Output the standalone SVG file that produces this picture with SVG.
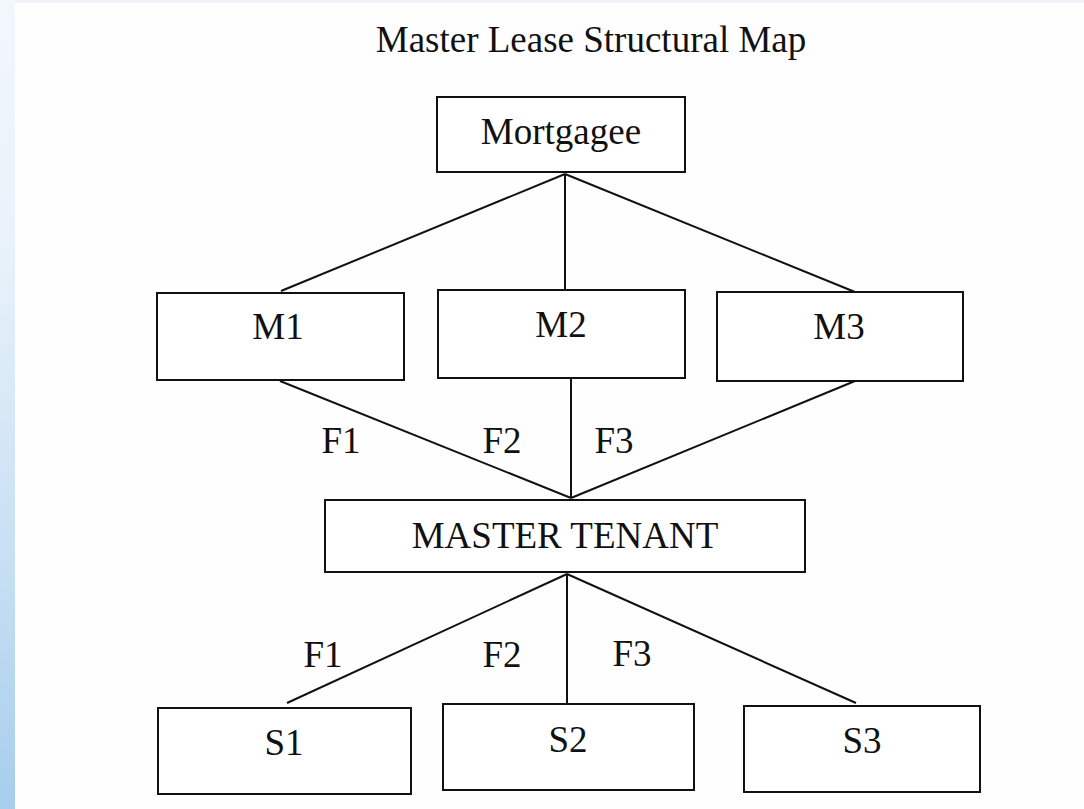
<svg xmlns="http://www.w3.org/2000/svg" width="1084" height="809" viewBox="0 0 1084 809">
<defs>
<linearGradient id="side" x1="0" y1="0" x2="0" y2="1">
<stop offset="0" stop-color="#f2f7fc"/>
<stop offset="0.3" stop-color="#e9f2fb"/>
<stop offset="0.7" stop-color="#c6dff3"/>
<stop offset="1" stop-color="#a7ceed"/>
</linearGradient>
</defs>
<style>
.box{fill:#fff;stroke:#111;stroke-width:2}
.t{font-family:"Liberation Serif","Times New Roman",serif;font-size:37px;fill:#111;text-anchor:middle}
.c line{stroke:#111;stroke-width:2}
</style>
<rect x="0" y="0" width="1084" height="809" fill="#fefefe"/>
<rect x="0" y="0" width="1084" height="3" fill="#eef4fa"/>
<rect x="0" y="0" width="15" height="809" fill="url(#side)"/>
<text class="t" x="591" y="52">Master Lease Structural Map</text>
<g class="c" id="connectors">
<line x1="565" y1="174" x2="281" y2="291"/>
<line x1="565" y1="174" x2="565" y2="290"/>
<line x1="565" y1="174" x2="855" y2="292"/>
<line x1="280" y1="381" x2="571" y2="498"/>
<line x1="571" y1="378" x2="571" y2="498"/>
<line x1="855" y1="381" x2="571" y2="498"/>
<line x1="567" y1="574" x2="287" y2="703"/>
<line x1="567" y1="574" x2="567" y2="704"/>
<line x1="567" y1="574" x2="856" y2="703"/>
<text class="t" x="341" y="453">F1</text>
<text class="t" x="502" y="453">F2</text>
<text class="t" x="614" y="453">F3</text>
<text class="t" x="323" y="667">F1</text>
<text class="t" x="502" y="667">F2</text>
<text class="t" x="632" y="666">F3</text>
</g>
<g id="mortgagee"><rect class="box" x="437" y="97" width="248" height="75"/><text class="t" x="561" y="144">Mortgagee</text></g>
<g id="m1"><rect class="box" x="157" y="293" width="247" height="87"/><text class="t" x="278" y="339">M1</text></g>
<g id="m2"><rect class="box" x="438" y="290" width="247" height="88"/><text class="t" x="561" y="337">M2</text></g>
<g id="m3"><rect class="box" x="717" y="292" width="246" height="89"/><text class="t" x="839" y="339">M3</text></g>
<g id="master-tenant"><rect class="box" x="325" y="500" width="480" height="72"/><text class="t" x="565" y="548">MASTER TENANT</text></g>
<g id="s1"><rect class="box" x="158" y="708" width="253" height="86"/><text class="t" x="284" y="755">S1</text></g>
<g id="s2"><rect class="box" x="443" y="704" width="251" height="86"/><text class="t" x="568" y="752">S2</text></g>
<g id="s3"><rect class="box" x="744" y="706" width="236" height="86"/><text class="t" x="862" y="753">S3</text></g>
</svg>
